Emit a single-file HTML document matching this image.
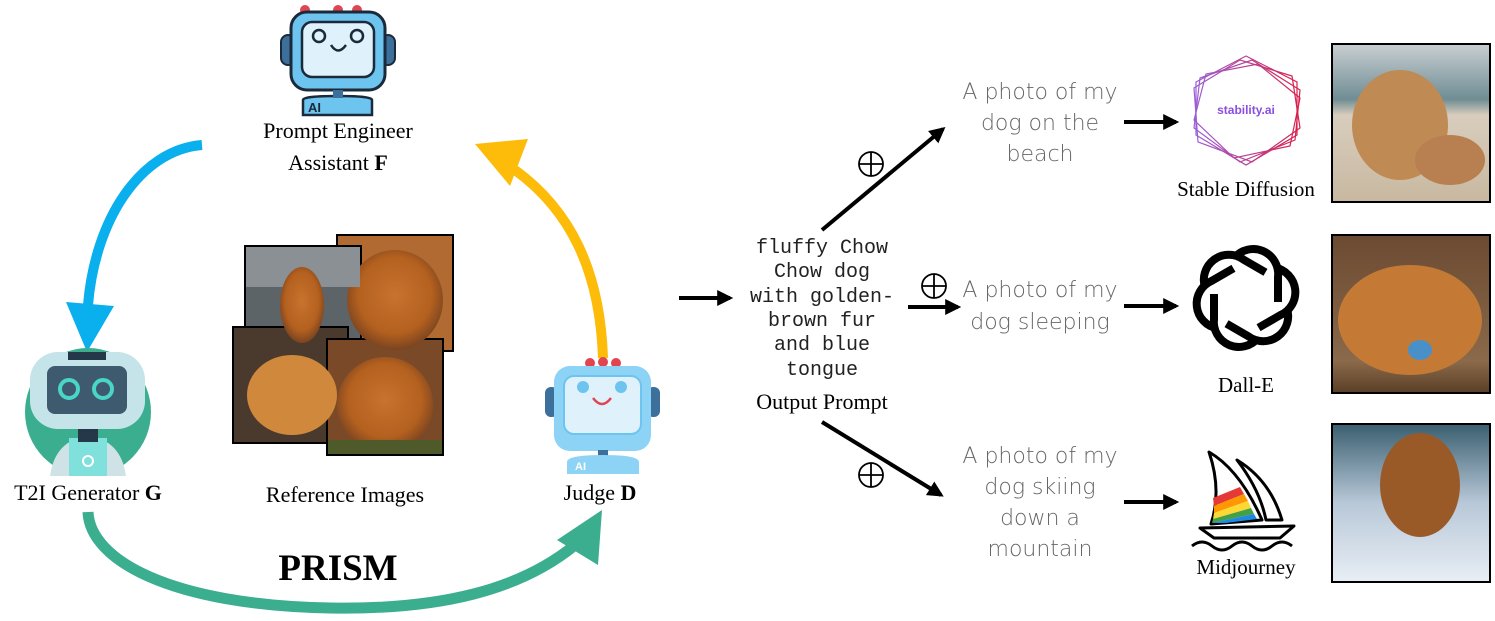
<!DOCTYPE html>
<html><head><meta charset="utf-8"><style>
html,body{margin:0;padding:0;background:#fff;}
svg{display:block}
.serif{font-family:"Liberation Serif",serif;}
.mono{font-family:"Liberation Mono",monospace;}
.hand{font-family:"DejaVu Sans","Liberation Sans",sans-serif;font-weight:200;fill:#666;}
</style></head><body>
<svg width="1495" height="621" viewBox="0 0 1495 621" xmlns="http://www.w3.org/2000/svg">
<defs>
<marker id="ah" viewBox="0 0 10 10" refX="8" refY="5" markerWidth="4" markerHeight="4" orient="auto"><path d="M0,0 L10,5 L0,10 z" fill="#000"/></marker>
<radialGradient id="fur" cx="50%" cy="45%" r="55%"><stop offset="0" stop-color="#c8732e"/><stop offset="0.7" stop-color="#b4601f"/><stop offset="1" stop-color="#7a4420"/></radialGradient>
<linearGradient id="sdbg" x1="0" y1="0" x2="0" y2="1"><stop offset="0" stop-color="#c9cfd2"/><stop offset="0.35" stop-color="#6f8d94"/><stop offset="0.45" stop-color="#d8cdbd"/><stop offset="1" stop-color="#c8b8a0"/></linearGradient>
<linearGradient id="dbg" x1="0" y1="0" x2="0" y2="1"><stop offset="0" stop-color="#6b4a32"/><stop offset="0.8" stop-color="#8a6a4a"/><stop offset="1" stop-color="#5a3e26"/></linearGradient>
<linearGradient id="mbg" x1="0" y1="0" x2="0" y2="1"><stop offset="0" stop-color="#3a5f70"/><stop offset="0.5" stop-color="#b8c8d8"/><stop offset="1" stop-color="#e8eef5"/></linearGradient>
<linearGradient id="hexg" x1="0" y1="0" x2="1" y2="0"><stop offset="0" stop-color="#9a5fd8"/><stop offset="1" stop-color="#d8204a"/></linearGradient>
</defs>

<path d="M202,145 C140,150 95,220 88,305" fill="none" stroke="#0ab0ee" stroke-width="10"/>
<polygon points="66,302 114,306 87,352" fill="#0ab0ee"/>
<path d="M603,358 C600,270 570,210 515,170" fill="none" stroke="#fdbb0a" stroke-width="10"/>
<polygon points="475,144 528,139 510,186" fill="#fdbb0a"/>
<path d="M88,512 C90,560 170,605 330,608 C440,610 520,590 575,545" fill="none" stroke="#3bae8f" stroke-width="11"/>
<polygon points="602,510 557,540 598,565" fill="#3bae8f"/>
<text x="338" y="580" text-anchor="middle" class="serif" font-size="37" font-weight="bold">PRISM</text>

<g>
<circle cx="305" cy="10" r="5" fill="#e04550"/><circle cx="338" cy="10" r="5" fill="#e04550"/><circle cx="357" cy="10" r="5" fill="#e04550"/>
<rect x="281" y="35" width="14" height="30" rx="7" fill="#3c6f9a" stroke="#1a2a3a" stroke-width="2"/>
<rect x="381" y="35" width="14" height="30" rx="7" fill="#3c6f9a" stroke="#1a2a3a" stroke-width="2"/>
<rect x="291" y="12" width="94" height="78" rx="16" fill="#6cc4ef" stroke="#1a2a3a" stroke-width="3"/>
<rect x="302" y="22" width="72" height="55" rx="10" fill="#dff1fb" stroke="#1a2a3a" stroke-width="2.5"/>
<circle cx="319" cy="36" r="6" fill="none" stroke="#1a2a3a" stroke-width="2.5"/><circle cx="357" cy="36" r="6" fill="none" stroke="#1a2a3a" stroke-width="2.5"/>
<path d="M331,45 Q338,56 346,45" fill="none" stroke="#1a2a3a" stroke-width="2.5"/>
<path d="M303,115 L303,100 Q303,96 338,96 Q372,96 372,100 L372,115 z" fill="#6cc4ef" stroke="#1a2a3a" stroke-width="2.5"/>
<rect x="333" y="90" width="10" height="8" fill="#3c6f9a"/>
<text x="308" y="112" font-family="Liberation Sans" font-size="13" font-weight="bold" fill="#1a2a3a">AI</text>
</g>
<text x="338" y="138" text-anchor="middle" class="serif" font-size="22">Prompt Engineer</text>
<text x="338" y="170" text-anchor="middle" class="serif" font-size="22">Assistant <tspan font-weight="bold">F</tspan></text>

<g>
<ellipse cx="88" cy="412" rx="63" ry="64" fill="#3bae8f"/>
<path d="M50,476 Q55,440 88,436 Q121,440 126,476 z" fill="#cfe3e6"/>
<rect x="69" y="438" width="38" height="38" fill="#7fe0dc"/>
<circle cx="88" cy="461" r="5" fill="none" stroke="#fff" stroke-width="2"/>
<rect x="78" y="420" width="20" height="22" fill="#25384a"/>
<rect x="30" y="352" width="115" height="77" rx="28" fill="#c5e4ea"/>
<rect x="47" y="366" width="80" height="48" rx="8" fill="#3e5a6e"/>
<rect x="68" y="352" width="38" height="8" fill="#25384a"/>
<circle cx="69" cy="389" r="9" fill="none" stroke="#4ad6c6" stroke-width="4"/>
<circle cx="103" cy="389" r="9" fill="none" stroke="#4ad6c6" stroke-width="4"/>
</g>
<text x="88" y="500" text-anchor="middle" class="serif" font-size="22">T2I Generator <tspan font-weight="bold">G</tspan></text>

<g stroke="#000" stroke-width="2">
<rect x="337" y="235" width="116" height="116" fill="#b06a32"/>
<rect x="245" y="246" width="116" height="115" fill="#5d6468"/>
<rect x="233" y="327" width="115" height="116" fill="#4a3a2e"/>
<rect x="327" y="339" width="116" height="116" fill="#7a4a28"/>
</g>
<ellipse cx="395" cy="300" rx="48" ry="50" fill="url(#fur)"/>
<rect x="246" y="247" width="114" height="40" fill="#8a9094"/>
<ellipse cx="302" cy="305" rx="22" ry="38" fill="url(#fur)"/>
<ellipse cx="292" cy="395" rx="45" ry="40" fill="#d0893c"/>
<ellipse cx="385" cy="405" rx="48" ry="48" fill="url(#fur)"/>
<rect x="328" y="440" width="114" height="14" fill="#4e5a2a"/>
<text x="345" y="502" text-anchor="middle" class="serif" font-size="22">Reference Images</text>

<g>
<circle cx="590" cy="363" r="5" fill="#e04550"/><circle cx="603" cy="362" r="5" fill="#e04550"/><circle cx="616" cy="363" r="5" fill="#e04550"/>
<rect x="545" y="387" width="13" height="30" rx="6" fill="#3c6f9a"/>
<rect x="647" y="387" width="13" height="30" rx="6" fill="#3c6f9a"/>
<rect x="554" y="366" width="97" height="85" rx="16" fill="#8dd3f5"/>
<rect x="564" y="376" width="77" height="58" rx="10" fill="#dff1fb" stroke="#6cc4ef" stroke-width="2"/>
<circle cx="583" cy="387" r="6" fill="#6cc4ef"/><circle cx="621" cy="387" r="6" fill="#6cc4ef"/>
<path d="M593,398 Q602,410 611,398" fill="none" stroke="#e04550" stroke-width="2.5"/>
<rect x="598" y="450" width="10" height="6" fill="#3c6f9a"/>
<path d="M567,474 L567,462 Q567,455 603,455 Q639,455 639,462 L639,474 z" fill="#8dd3f5"/>
<text x="575" y="470" font-family="Liberation Sans" font-size="11" font-weight="bold" fill="#fff">AI</text>
</g>
<text x="600" y="500" text-anchor="middle" class="serif" font-size="22">Judge <tspan font-weight="bold">D</tspan></text>

<line x1="679" y1="298" x2="730" y2="298" stroke="#000" stroke-width="4" marker-end="url(#ah)"/>
<g class="mono" font-size="20" text-anchor="middle" fill="#222">
<text x="822" y="253">fluffy Chow</text>
<text x="822" y="277">Chow dog</text>
<text x="822" y="302">with golden-</text>
<text x="822" y="326">brown fur</text>
<text x="822" y="350">and blue</text>
<text x="822" y="375">tongue</text>
</g>
<text x="822" y="409" text-anchor="middle" class="serif" font-size="22">Output Prompt</text>

<line x1="822" y1="230" x2="943" y2="129" stroke="#000" stroke-width="4" marker-end="url(#ah)"/>
<line x1="908" y1="307" x2="958" y2="307" stroke="#000" stroke-width="4" marker-end="url(#ah)"/>
<line x1="822" y1="422" x2="941" y2="495" stroke="#000" stroke-width="4" marker-end="url(#ah)"/>
<g fill="none" stroke="#000" stroke-width="1.8">
<circle cx="871" cy="164" r="12"/><line x1="859" y1="164" x2="883" y2="164"/><line x1="871" y1="152" x2="871" y2="176"/>
<circle cx="934" cy="286" r="12"/><line x1="922" y1="286" x2="946" y2="286"/><line x1="934" y1="274" x2="934" y2="298"/>
<circle cx="871" cy="475" r="12"/><line x1="859" y1="475" x2="883" y2="475"/><line x1="871" y1="463" x2="871" y2="487"/>
</g>

<g class="hand" font-size="22" text-anchor="middle">
<text x="1040" y="99">A photo of my</text>
<text x="1040" y="130">dog on the</text>
<text x="1040" y="161">beach</text>
<text x="1040" y="297">A photo of my</text>
<text x="1040" y="329">dog sleeping</text>
<text x="1040" y="463">A photo of my</text>
<text x="1040" y="494">dog skiing</text>
<text x="1040" y="525">down a</text>
<text x="1040" y="556">mountain</text>
</g>

<line x1="1124" y1="122" x2="1176" y2="122" stroke="#000" stroke-width="4" marker-end="url(#ah)"/>
<line x1="1124" y1="306" x2="1176" y2="306" stroke="#000" stroke-width="4" marker-end="url(#ah)"/>
<line x1="1124" y1="502" x2="1176" y2="502" stroke="#000" stroke-width="4" marker-end="url(#ah)"/>

<g fill="none" stroke="url(#hexg)" stroke-width="1.2">
<polygon points="1246,56 1297,82 1297,135 1246,165 1196,135 1196,82"/>
<polygon points="1252,60 1300,90 1295,140 1240,162 1194,128 1200,78"/>
<polygon points="1258,64 1300,98 1290,146 1234,158 1194,120 1206,74"/>
<polygon points="1240,60 1292,76 1300,128 1252,162 1198,142 1194,88"/>
</g>
<text x="1246" y="114" text-anchor="middle" font-family="Liberation Sans" font-size="12" font-weight="bold" fill="#8a4fe0">stability.ai</text>
<text x="1246" y="196" text-anchor="middle" class="serif" font-size="21">Stable Diffusion</text>

<g fill="none" stroke="#000" stroke-width="8">
<g transform="translate(1246,298)">
<path d="M-12,-40 a25,25 0 0 1 44,19 l0,25"/>
<path d="M-12,-40 a25,25 0 0 1 44,19 l0,25" transform="rotate(60)"/>
<path d="M-12,-40 a25,25 0 0 1 44,19 l0,25" transform="rotate(120)"/>
<path d="M-12,-40 a25,25 0 0 1 44,19 l0,25" transform="rotate(180)"/>
<path d="M-12,-40 a25,25 0 0 1 44,19 l0,25" transform="rotate(240)"/>
<path d="M-12,-40 a25,25 0 0 1 44,19 l0,25" transform="rotate(300)"/>
</g>
</g>
<text x="1246" y="392" text-anchor="middle" class="serif" font-size="21">Dall-E</text>

<g stroke="#000" stroke-width="3" fill="#fff" stroke-linejoin="round">
<path d="M1209,452 Q1240,470 1262,520 L1211,524 Q1222,490 1209,452 z"/>
<path d="M1237,460 Q1270,480 1282,520 L1266,520 Q1260,490 1237,460 z"/>
<path d="M1200,528 L1294,526 L1280,538 L1214,538 z"/>
</g>
<g>
<polygon points="1213,498 1240,487 1244,494 1214,506" fill="#e53935"/>
<polygon points="1214,506 1244,494 1248,501 1214,513" fill="#ff9800"/>
<polygon points="1214,513 1248,501 1251,508 1213,519" fill="#fdd835"/>
<polygon points="1213,519 1251,508 1254,514 1212,523" fill="#43a047"/>
<polygon points="1212,523 1254,514 1257,519 1226,523" fill="#1e88e5"/>
</g>
<path d="M1192,546 q10,-8 20,0 t20,0 t20,0 t20,0 t20,0" fill="none" stroke="#000" stroke-width="3"/>
<text x="1246" y="574" text-anchor="middle" class="serif" font-size="21">Midjourney</text>

<rect x="1332" y="44" width="158" height="158" fill="url(#sdbg)" stroke="#000" stroke-width="2"/>
<ellipse cx="1400" cy="125" rx="48" ry="55" fill="#c08a55"/>
<ellipse cx="1450" cy="160" rx="35" ry="25" fill="#b88050"/>
<rect x="1332" y="235" width="158" height="158" fill="url(#dbg)" stroke="#000" stroke-width="2"/>
<ellipse cx="1410" cy="320" rx="72" ry="55" fill="#c47a35"/>
<ellipse cx="1420" cy="350" rx="12" ry="10" fill="#4a90c8"/>
<rect x="1332" y="424" width="158" height="158" fill="url(#mbg)" stroke="#000" stroke-width="2"/>
<ellipse cx="1420" cy="485" rx="40" ry="52" fill="#9a5a28"/>
</svg>
</body></html>
